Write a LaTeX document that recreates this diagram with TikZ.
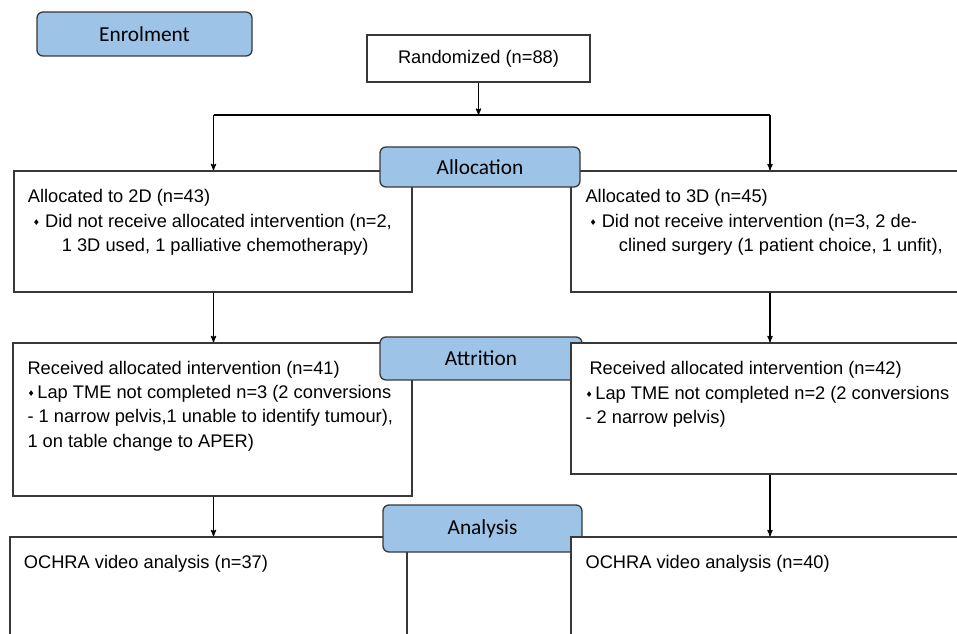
\documentclass[tikz,border=0pt]{standalone}
\usepackage{fontspec}
\setmainfont{Liberation Sans}
\newfontfamily\stagefont{Carlito}
\newfontfamily\symfont{DejaVu Sans}
\usetikzlibrary{arrows,positioning}
\definecolor{stageblue}{HTML}{9DC3E6}
\definecolor{edgegray}{HTML}{383838}
\newcommand{\dmd}{{\symfont\fontsize{6}{6}\selectfont\raisebox{1.2pt}{♦}}}

\begin{document}
\begin{tikzpicture}[x=0.75pt,y=-0.75pt,>=stealth',line width=0.8pt]
  \tikzstyle{stage}=[rectangle,rounded corners=4.5pt,draw=edgegray,line width=1pt,fill=stageblue,
                     font=\stagefont\fontsize{16}{19}\selectfont,inner sep=0pt]
  \tikzstyle{panel}=[rectangle,draw=edgegray,line width=1pt,fill=white,inner sep=0pt]
  \tikzstyle{txt}=[align=left,inner sep=0pt,font=\fontsize{13.7}{18.3}\selectfont]

  \clip (0,0) rectangle (957,634);

  \node[stage] (enrol) at (144.5,34) [minimum width=161.25pt,minimum height=33pt] {Enrolment};
  \node[panel,txt,align=center] (rand) at (478.5,58.5) [minimum width=167.25pt,minimum height=35.25pt] {Randomized (n=88)};

  % allocation row
  \node[panel] (a2d) at (213,231.5) [minimum width=298.5pt,minimum height=90.75pt] {};
  \node[panel] (a3d) at (770,231.5) [minimum width=298.5pt,minimum height=90.75pt] {};
  \node[stage] (alloc) at (480,167) [minimum width=150pt,minimum height=30pt] {Allocation};
  \node[txt] (a2dtxt) [below right=14pt and 10.5pt of a2d.north west]
    {Allocated to 2D (n=43)\\
     \hspace*{3.75pt}\dmd\ Did not receive allocated intervention (n=2,\\
     \hspace*{25.5pt}1 3D used, 1 palliative chemotherapy)};
  \node[txt] (a3dtxt) [below right=14pt and 11pt of a3d.north west]
    {Allocated to 3D (n=45)\\
     \hspace*{3pt}\dmd\ Did not receive intervention (n=3, 2 de-\\
     \hspace*{25pt}clined surgery (1 patient choice, 1 unfit),};

  % attrition row
  \node[panel] (r2d) at (212.5,419.5) [minimum width=299.25pt,minimum height=114.75pt] {};
  \node[stage] (attr) at (481,358.5) [minimum width=151.5pt,minimum height=32.25pt] {Attrition};
  \node[panel] (r3d) at (770,408.5) [minimum width=298.5pt,minimum height=98.25pt] {};
  \node[txt] (r2dtxt) [below right=13.5pt and 11pt of r2d.north west]
    {Received allocated intervention (n=41)\\
     \dmd\hspace{2pt}Lap TME not completed n=3 (2 conversions\\
     - 1 narrow pelvis,1 unable to identify tumour),\\
     1 on table change to APER)};
  \node[txt] (r3dtxt) [below right=14pt and 11pt of r3d.north west]
    {\hspace*{3pt}Received allocated intervention (n=42)\\
     \dmd\hspace{2pt}Lap TME not completed n=2 (2 conversions\\
     - 2 narrow pelvis)};

  % analysis row
  \node[panel] (o2d) at (208.5,612) [minimum width=297.75pt,minimum height=112.5pt] {};
  \node[stage] (anal) at (482.5,528.5) [minimum width=149.25pt,minimum height=35.25pt] {Analysis};
  \node[panel] (o3d) at (770,612) [minimum width=298.5pt,minimum height=112.5pt] {};
  \node[txt] (o2dtxt) [below right=13.5pt and 10.5pt of o2d.north west] {OCHRA video analysis (n=37)};
  \node[txt] (o3dtxt) [below right=13.5pt and 11pt of o3d.north west] {OCHRA video analysis (n=40)};

  \coordinate (split)  at (478.5,115);
  \coordinate (splitL) at (213.5,115);
  \coordinate (splitR) at (770,115);

  \draw[->] (rand.south) -- (split);
  \draw (splitL) -- (splitR);
  \draw[->] (splitL) -- (splitL |- a2d.north);
  \draw[->] (splitR) -- (a3d.north);
  \draw[->] (splitL |- a2d.south) -- (splitL |- r2d.north);
  \draw[->] (a3d.south) -- (r3d.north);
  \draw[->] (splitL |- r2d.south) -- (splitL |- o2d.north);
  \draw[->] (r3d.south) -- (r3d.south |- o3d.north);
\end{tikzpicture}
\end{document}
